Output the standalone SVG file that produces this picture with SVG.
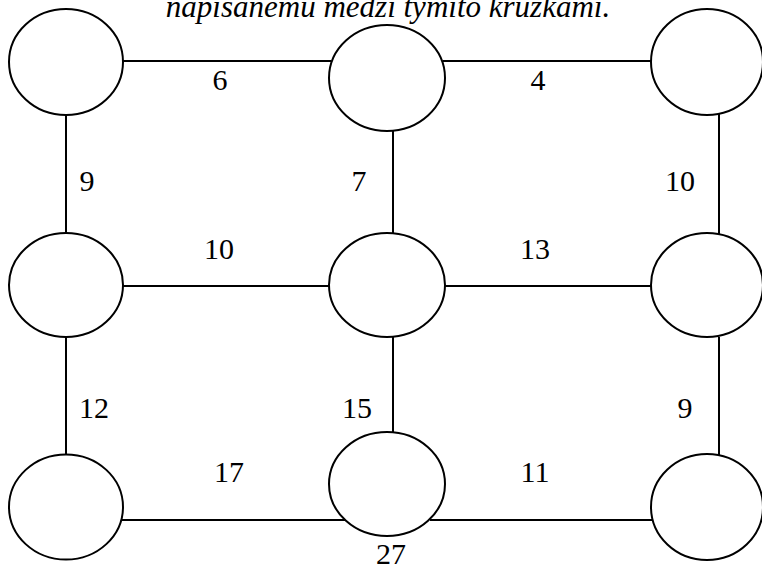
<svg xmlns="http://www.w3.org/2000/svg" width="762" height="566" viewBox="0 0 762 566">
<style>
.e{stroke:#000;stroke-width:2;fill:none}
.n{fill:#fff;stroke:#000;stroke-width:2}
.t{font-family:'Liberation Serif','DejaVu Serif',serif;font-size:30px;fill:#000}
.ti{font-family:'Liberation Serif','DejaVu Serif',serif;font-size:31px;font-style:italic;fill:#000}
</style>
<rect width="762" height="566" fill="#fff"/>
<text class="ti" x="388" y="17" text-anchor="middle">napísanému medzi týmito krúžkami.</text>
<g id="connectors">
<line class="e" x1="123" y1="61" x2="331" y2="61"/>
<line class="e" x1="443" y1="61" x2="652" y2="61"/>
<line class="e" x1="66" y1="115" x2="66" y2="233"/>
<line class="e" x1="393" y1="130" x2="393" y2="233"/>
<line class="e" x1="719" y1="114" x2="719" y2="234"/>
<line class="e" x1="123" y1="286" x2="329" y2="286"/>
<line class="e" x1="445" y1="286" x2="651" y2="286"/>
<line class="e" x1="66" y1="337" x2="66" y2="455"/>
<line class="e" x1="393" y1="337" x2="393" y2="433"/>
<line class="e" x1="719" y1="337" x2="719" y2="455"/>
<line class="e" x1="122" y1="520" x2="345" y2="520"/>
<line class="e" x1="430" y1="520" x2="653" y2="520"/>
</g>
<g id="n1"><ellipse class="n" cx="66" cy="62" rx="57" ry="53"/></g>
<g id="n2"><ellipse class="n" cx="387" cy="78" rx="58" ry="53"/></g>
<g id="n3"><ellipse class="n" cx="707" cy="62" rx="56" ry="53"/></g>
<g id="n4"><ellipse class="n" cx="66" cy="285" rx="57" ry="52"/></g>
<g id="n5"><ellipse class="n" cx="387" cy="285" rx="58" ry="52"/></g>
<g id="n6"><ellipse class="n" cx="707" cy="285" rx="56" ry="52"/></g>
<g id="n7"><ellipse class="n" cx="66" cy="507" rx="57" ry="52.5"/></g>
<g id="n8"><ellipse class="n" cx="387" cy="484" rx="58" ry="52"/></g>
<g id="n9"><ellipse class="n" cx="707" cy="507" rx="56" ry="53"/></g>
<g id="labels">
<text class="t" x="220" y="90" text-anchor="middle">6</text>
<text class="t" x="538" y="90" text-anchor="middle">4</text>
<text class="t" x="87" y="191" text-anchor="middle">9</text>
<text class="t" x="359" y="191" text-anchor="middle">7</text>
<text class="t" x="680" y="191" text-anchor="middle">10</text>
<text class="t" x="219" y="259" text-anchor="middle">10</text>
<text class="t" x="535" y="259" text-anchor="middle">13</text>
<text class="t" x="94" y="418" text-anchor="middle">12</text>
<text class="t" x="357" y="418" text-anchor="middle">15</text>
<text class="t" x="685" y="418" text-anchor="middle">9</text>
<text class="t" x="229" y="482" text-anchor="middle">17</text>
<text class="t" x="535" y="482" text-anchor="middle">11</text>
<text class="t" x="391" y="564" text-anchor="middle">27</text>
</g>
</svg>
